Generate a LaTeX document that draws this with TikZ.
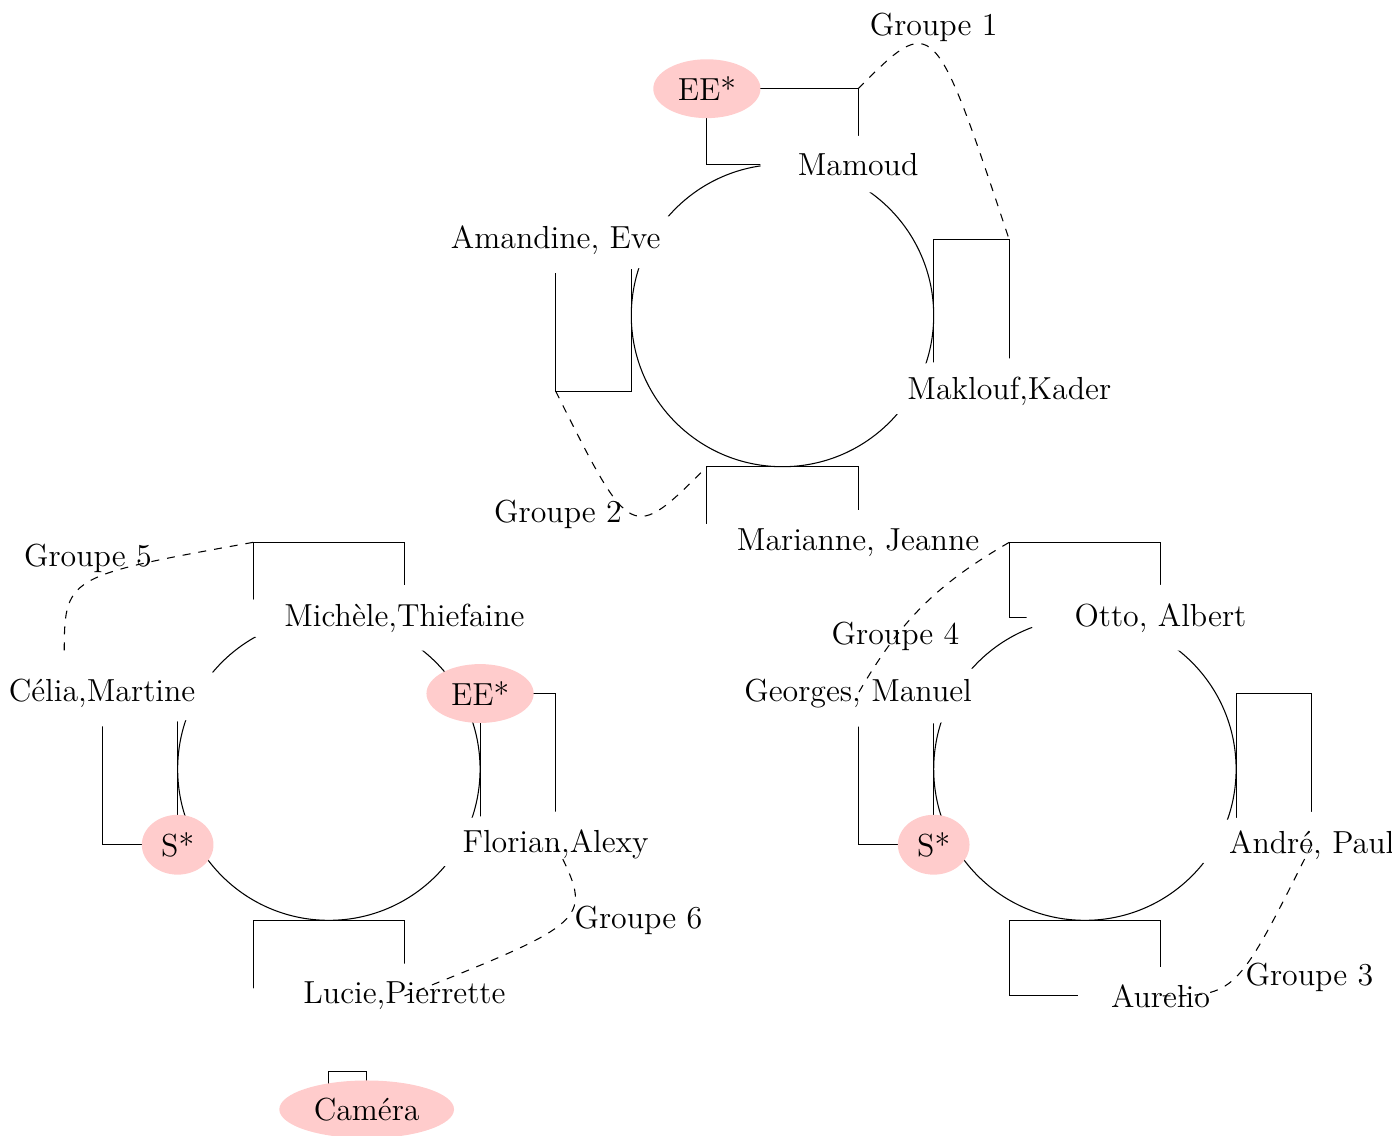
\documentclass[tikz,border=0pt]{standalone}
\usepackage{fontspec}
\usetikzlibrary{shapes.geometric,calc}

\begin{document}
\begin{tikzpicture}[
  font=\large,
  convive/.style={ellipse,fill=white},
  staff/.style={ellipse,fill=red!20},
  groupe/.style={dashed}
]
\useasboundingbox (-10.35,-10.84) rectangle (8.062,4.173);
% table 1
\draw (0,0) circle (2);
\draw (-1,3) rectangle (1,2) (-3,1) rectangle (-2,-1) (2,1) rectangle (3,-1) (-1,-2) rectangle (1,-3);
\node[convive] (mamoud) at (1,2) {Mamoud};
\node[staff] (ee1) at (-1,3) {EE*};
\node[convive] (amandine) at (-3,1) {Amandine, Eve};
\node[convive] (maklouf) at (3,-1) {Maklouf,Kader};
\node[convive] (marianne) at (1,-3) {Marianne, Jeanne};
% table 2
\draw (-6,-6) circle (2);
\draw (-7,-3) rectangle (-5,-4) (-9,-5) rectangle (-8,-7) (-4,-5) rectangle (-3,-7) (-7,-8) rectangle (-5,-9) (-6,-10) rectangle (-5.5,-10.5);
\node[convive] (michele) at (-5,-4) {Michèle,Thiefaine};
\node[convive] (celia) at (-9,-5) {Célia,Martine};
\node[staff] (ee2) at (-4,-5) {EE*};
\node[staff] (s2) at (-8,-7) {S*};
\node[convive] (florian) at (-3,-7) {Florian,Alexy};
\node[convive] (lucie) at (-5,-9) {Lucie,Pierrette};
\node[staff] (camera) at (-5.5,-10.5) {Caméra};
% table 3
\draw (4,-6) circle (2);
\draw (3,-3) rectangle (5,-4) (1,-5) rectangle (2,-7) (6,-5) rectangle (7,-7) (3,-8) rectangle (5,-9);
\node[convive] (otto) at (5,-4) {Otto, Albert};
\node[convive] (georges) at (1,-5) {Georges, Manuel};
\node[staff] (s3) at (2,-7) {S*};
\node[convive] (andre) at (7,-7) {André, Paul};
\node[convive] (aurelio) at (5,-9) {Aurelio};
% groupes
\draw[groupe] (ee1.center -| mamoud.center) .. controls (2,4) .. node[above]{Groupe 1} (maklouf.center |- amandine.center);
\draw[groupe] (amandine.center |- maklouf.center) .. controls (-2,-3) .. node[left]{Groupe 2} ($(marianne.center)+(-2,1)$);
\draw[groupe] (andre.center) .. controls (6,-9) .. node[right]{Groupe 3} (aurelio.center);
\draw[groupe] ($(otto.center)+(-2,1)$) to[out=210,in=60] node[pos=0.7]{Groupe 4} (georges.center);
\draw[groupe] ($(michele.center)+(-2,1)$) .. controls (-9.5,-3.45) .. node[above]{Groupe 5} ($(celia.center)+(-0.5,0.5)$);
\draw[groupe] (florian.center) .. controls (-2.5,-8) .. node[right]{Groupe 6} (lucie.center);
\end{tikzpicture}
\end{document}
